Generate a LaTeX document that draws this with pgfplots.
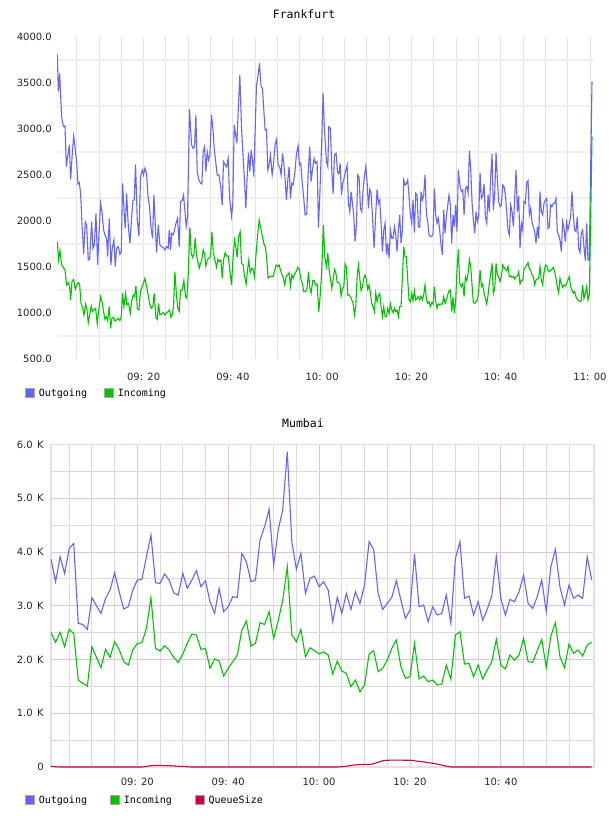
\documentclass[border=0pt]{standalone}
\usepackage{fontspec}
\usepackage{pgfplots}
\pgfplotsset{compat=1.18}
\usepackage{pgfplotstable}

\newfontfamily\tickfont{DejaVu Sans}
\newfontfamily\labelfont{DejaVu Sans Mono}

\definecolor{cOut}{RGB}{100,100,255}
\definecolor{cIn}{RGB}{0,196,0}
\definecolor{cQueue}{RGB}{204,0,51}
\definecolor{fraGridH}{RGB}{240,240,240}
\definecolor{fraGridV}{RGB}{226,226,226}
\definecolor{mumMajor}{RGB}{222,196,222}
\definecolor{mumMinor}{RGB}{218,218,218}
\definecolor{mumFrame}{RGB}{236,218,236}

% Frankfurt, minutes after 09:00
\pgfplotstableread{
t v
0.67 3812
0.90 3406
1.19 3605
1.64 3134
2.02 3025
2.39 3033
2.69 2591
2.98 2699
3.36 2826
3.66 2453
4.03 2735
4.33 2924
4.63 2808
5.00 2645
5.30 2402
5.60 2417
5.89 2301
6.19 1975
6.57 1641
6.94 1993
7.24 1957
7.61 1576
7.91 1583
8.36 1993
8.65 1703
8.95 1739
9.33 2083
9.70 1522
10.00 1866
10.37 2192
10.67 2101
11.04 1902
11.34 1848
11.71 1812
11.94 1612
12.31 2029
12.68 1522
12.98 1703
13.35 1794
13.65 1504
13.95 1703
14.32 1721
14.70 1638
14.99 1667
15.29 2409
15.67 2065
15.89 1920
16.19 2301
16.56 1957
16.94 1757
17.23 1975
17.61 2221
17.90 2228
18.20 2616
18.58 2011
18.95 1837
19.32 2482
19.70 2554
19.99 2500
20.29 2573
20.67 2518
20.96 2283
21.34 2156
21.63 1938
22.01 1812
22.31 2283
22.60 1975
22.90 1656
23.28 1957
23.65 1739
24.02 1721
24.40 1714
24.77 1685
25.14 1721
25.51 1703
25.74 1902
26.04 1685
26.26 1866
26.56 1848
26.86 1884
27.16 1957
27.60 2029
27.98 1721
28.27 2210
28.65 2221
28.95 2283
29.24 2120
29.54 1938
29.84 2047
30.29 3214
30.74 2826
31.12 2790
31.41 2808
31.71 3152
32.01 2536
32.38 2446
32.76 2409
33.06 2402
33.35 2754
33.65 2808
33.95 2536
34.25 2754
34.55 2663
34.85 2717
35.22 3152
35.52 3007
35.82 2790
36.19 2627
36.49 2500
36.86 2500
37.23 2391
37.61 2174
37.90 2645
38.28 2609
38.58 2591
38.95 2681
39.25 2265
39.70 2054
39.99 2192
40.29 3043
40.59 2953
40.89 2844
41.19 3188
41.56 3587
41.93 3025
42.31 2681
42.60 2446
42.90 2138
43.20 2482
43.50 2743
43.80 2536
44.10 2772
44.39 2663
44.69 2482
44.99 2989
45.29 3478
45.66 3587
45.96 3714
46.33 3460
46.63 3442
46.93 3206
47.23 2989
47.53 2996
47.83 2554
48.12 2609
48.42 2717
48.80 2500
49.09 2609
49.47 2844
49.77 2888
50.14 2609
50.51 2583
50.81 2500
51.11 2735
51.41 2627
51.71 2446
52.00 2228
52.30 2446
52.60 2591
52.90 2246
53.20 2409
53.50 2391
53.87 2518
54.24 2728
54.62 2815
54.91 2609
55.21 2627
55.51 2428
55.88 2246
56.18 2065
56.55 2076
56.85 2500
57.23 2808
57.52 2428
57.82 2554
58.20 2681
58.49 2627
58.87 2645
59.17 1928
59.46 2265
59.91 2880
60.21 3395
60.51 2989
60.97 2645
61.27 2591
61.49 3025
61.86 3007
62.16 2554
62.46 2293
62.76 2717
63.13 2735
63.43 2536
63.73 2511
64.03 2627
64.33 2283
64.62 2409
64.92 2464
65.22 2536
65.59 2609
65.89 2192
66.19 2101
66.49 2319
66.79 2192
67.09 2047
67.38 1775
67.68 1957
67.98 2500
68.28 2475
68.58 2138
68.88 2101
69.17 2337
69.47 2482
69.77 2591
70.07 2428
70.37 2138
70.67 2344
70.97 2301
71.26 2065
71.64 1703
71.93 2011
72.31 2344
72.61 2192
72.90 2228
73.20 1975
73.50 1667
73.80 1902
74.10 1975
74.40 1631
74.69 1757
74.99 1594
75.29 1902
75.59 1812
75.89 1812
76.19 1938
76.49 1848
76.78 1667
77.08 1902
77.38 2065
77.68 1757
77.98 1902
78.28 2446
78.57 2391
78.87 2402
79.17 2446
79.47 2265
79.77 2065
80.07 1975
80.36 2228
80.66 1873
80.96 2301
81.26 2283
81.56 1938
81.86 1931
82.15 2319
82.45 2228
82.75 2283
83.05 2500
83.35 2083
83.65 1993
83.95 1848
84.24 1830
84.54 1830
84.84 1866
85.14 2355
85.44 2065
85.74 1975
86.03 2029
86.33 1902
86.63 1739
86.93 1631
87.23 2120
87.53 1866
87.82 2047
88.12 2163
88.42 2283
88.72 2174
89.02 1757
89.32 2065
89.61 1938
89.91 2174
90.21 1884
90.51 2554
90.81 2409
91.20 2319
91.50 2337
91.80 2065
92.09 2355
92.39 2373
92.69 2301
92.99 2764
93.29 2554
93.59 2192
93.88 2011
94.18 1866
94.48 2101
94.78 1993
95.08 2065
95.38 2525
95.67 2246
95.97 2272
96.27 2402
96.57 2047
96.87 1975
97.17 2283
97.46 2101
97.76 2482
98.06 2728
98.36 2120
98.66 2301
98.96 2743
99.26 2446
99.55 2210
99.85 2156
100.15 2174
100.45 2391
100.75 2373
101.05 2283
101.34 2101
101.64 1902
101.94 1848
102.24 2174
102.54 2101
102.84 1938
103.13 2246
103.43 2554
103.73 2101
104.03 2272
104.33 1703
104.63 1975
104.92 1902
105.22 2210
105.52 2192
105.82 2417
106.12 2438
106.42 2065
106.72 2138
107.01 1982
107.31 1938
107.61 1884
107.91 1757
108.21 1938
108.51 1812
108.80 2319
109.10 2101
109.40 2065
109.70 2192
110.00 2228
110.30 2246
110.59 1920
110.89 1938
111.19 2174
111.49 2156
111.79 2192
112.09 2192
112.38 2246
112.68 1884
112.98 1848
113.28 1794
113.58 1667
113.88 1993
114.18 1920
114.47 1775
114.77 1982
115.07 1902
115.37 1975
115.67 2047
115.97 2319
116.26 2065
116.56 1902
116.86 1884
117.16 2047
117.46 1703
117.76 1656
118.05 1866
118.35 1902
118.65 1721
118.95 1569
119.25 1975
119.55 1576
119.84 1576
120.45 3514
}\fraOut

\pgfplotstableread{
t v
0.67 1775
0.97 1576
1.27 1678
1.64 1522
2.02 1496
2.39 1467
2.76 1305
3.13 1330
3.43 1286
3.66 1141
3.95 1341
4.33 1366
4.70 1257
5.07 1305
5.37 1330
5.67 1315
5.97 1105
6.34 1062
6.64 978
7.01 1098
7.31 1033
7.61 895
7.91 978
8.28 1076
8.58 1015
8.88 1033
9.25 1051
9.62 880
10.00 1051
10.37 1178
10.74 1112
11.04 1015
11.34 931
11.64 960
11.94 917
12.31 1069
12.61 833
12.91 942
13.28 953
13.58 913
13.95 924
14.32 939
14.70 917
14.99 960
15.29 1214
15.59 1069
15.97 1214
16.26 1087
16.64 1105
17.01 996
17.31 1123
17.68 1196
17.98 1178
18.28 1294
18.58 1051
18.95 1033
19.32 1243
19.70 1286
19.99 1330
20.29 1377
20.67 1286
20.96 1214
21.34 1105
21.71 1051
22.08 1069
22.38 1214
22.75 953
23.05 931
23.35 1105
23.65 978
24.02 989
24.40 1004
24.77 978
25.14 1004
25.51 1015
25.81 1033
26.11 953
26.41 978
26.71 1069
27.01 1449
27.38 1178
27.68 1051
27.98 1015
28.27 1243
28.65 1250
29.02 1352
29.39 1178
29.69 1159
29.99 1413
30.36 1931
30.67 1649
30.97 1605
31.27 1641
31.56 1812
31.86 1630
32.16 1558
32.46 1486
32.76 1540
33.06 1583
33.35 1685
33.65 1641
33.95 1511
34.25 1576
34.55 1594
35.00 1612
35.29 1884
35.59 1667
35.97 1576
36.34 1496
36.64 1583
36.93 1558
37.31 1576
37.61 1377
37.90 1576
38.28 1656
38.58 1620
38.95 1620
39.32 1467
39.70 1305
39.99 1558
40.37 1794
40.66 1721
40.96 1605
41.26 1823
41.63 1884
41.93 1540
42.31 1522
42.60 1402
42.98 1315
43.28 1467
43.57 1576
43.87 1438
44.25 1486
44.54 1467
44.84 1395
45.14 1612
45.51 1830
45.89 2011
46.19 1938
46.56 1848
46.93 1757
47.30 1714
47.60 1576
47.90 1377
48.27 1395
48.65 1402
49.02 1395
49.39 1467
49.69 1522
50.06 1504
50.36 1522
50.66 1467
51.03 1413
51.33 1377
51.63 1305
51.93 1395
52.23 1413
52.60 1438
52.90 1294
53.20 1413
53.50 1377
53.87 1431
54.17 1449
54.54 1496
54.91 1467
55.21 1377
55.58 1315
55.88 1232
56.26 1232
56.63 1268
56.93 1449
57.23 1279
57.52 1214
57.90 1352
58.20 1352
58.57 1305
58.87 1315
59.24 1015
59.61 1214
59.91 1467
60.28 1957
60.58 1612
60.97 1504
61.27 1649
61.57 1467
61.86 1377
62.16 1268
62.46 1359
62.76 1475
63.06 1438
63.36 1337
63.65 1330
63.95 1323
64.25 1185
64.55 1268
64.85 1286
65.15 1533
65.44 1496
65.74 1196
66.04 1196
66.34 1178
66.64 1141
66.94 1105
67.23 978
67.53 1069
67.83 1395
68.13 1522
68.43 1377
68.73 1243
69.03 1286
69.32 1377
69.62 1413
69.92 1359
70.22 1257
70.52 1305
70.82 1214
71.11 1105
71.41 1069
71.71 1015
72.01 1214
72.31 1123
72.61 1185
72.90 1214
73.20 1069
73.50 960
73.80 1069
74.10 960
74.40 960
74.69 1051
74.99 996
75.29 1098
75.59 1033
75.89 1004
76.19 1051
76.49 1015
76.78 1033
77.08 960
77.38 1069
77.68 1069
77.98 1395
78.28 1721
78.57 1612
78.87 1612
79.17 1359
79.47 1141
79.77 1123
80.07 1214
80.36 1134
80.66 1243
80.96 1141
81.26 1159
81.56 1178
81.86 1141
82.15 1185
82.45 1141
82.75 1196
83.05 1305
83.35 1159
83.65 1105
83.95 1123
84.24 1069
84.54 1112
84.84 1098
85.14 1286
85.44 1123
85.74 1051
86.03 1098
86.33 1087
86.63 1098
86.93 1098
87.23 1178
87.53 1105
87.82 1141
88.12 1196
88.42 1243
88.72 1250
89.02 1015
89.32 1178
89.61 996
89.91 1134
90.21 1467
90.51 1692
90.81 1323
91.20 1286
91.50 1323
91.80 1178
92.09 1395
92.39 1352
92.69 1431
92.99 1583
93.29 1504
93.59 1294
93.88 1112
94.18 1105
94.48 1123
94.78 1141
95.08 1250
95.38 1467
95.67 1286
95.97 1315
96.27 1214
96.57 1159
96.87 1098
97.17 1196
97.46 1323
97.76 1431
98.06 1540
98.36 1214
98.66 1268
98.96 1540
99.26 1413
99.55 1395
99.85 1341
100.15 1395
100.45 1522
100.75 1496
101.05 1475
101.34 1460
101.64 1504
101.94 1395
102.24 1402
102.54 1388
102.84 1395
103.13 1366
103.43 1395
103.73 1402
104.03 1449
104.33 1315
104.63 1359
104.92 1352
105.22 1475
105.52 1496
105.82 1522
106.12 1547
106.42 1475
106.72 1467
107.01 1413
107.31 1395
107.61 1305
107.91 1359
108.21 1366
108.51 1377
108.80 1504
109.10 1359
109.40 1305
109.70 1438
110.00 1522
110.30 1511
110.59 1467
110.89 1449
111.19 1467
111.49 1475
111.79 1496
112.09 1449
112.38 1377
112.68 1286
112.98 1221
113.28 1377
113.58 1323
113.88 1279
114.18 1305
114.47 1294
114.77 1323
115.07 1359
115.37 1395
115.67 1286
115.97 1250
116.26 1214
116.56 1232
116.86 1178
117.16 1149
117.46 1134
117.76 1123
118.05 1141
118.35 1305
118.65 1159
118.95 1214
119.25 1286
119.55 1141
119.84 1196
120.14 1975
120.45 2916
}\fraIn

% Mumbai, one sample per minute after 09:00
\pgfplotstableread{
t out in queue
1 3869 2505 15
2 3447 2319 5
3 3912 2505 0
4 3602 2238 0
5 4067 2560 0
6 4160 2486 0
7 2672 1618 0
8 2653 1556 0
9 2560 1506 0
10 3149 2238 0
11 3000 2040 0
12 2858 1847 0
13 3137 2188 0
14 3292 2040 0
15 3614 2331 0
16 3261 2188 0
17 2939 1959 0
18 2982 1897 0
19 3292 2176 0
20 3478 2300 0
21 3490 2312 0
22 3912 2579 10
23 4315 3150 25
24 3428 2207 30
25 3416 2157 30
26 3590 2257 25
27 3478 2176 25
28 3242 2040 20
29 3199 1947 15
30 3602 2102 10
31 3323 2300 5
32 3478 2474 0
33 3652 2455 0
34 3354 2188 0
35 3466 2207 0
36 3075 1835 0
37 2858 2009 0
38 3323 1971 0
39 2889 1692 0
40 2982 1835 0
41 3168 1959 0
42 3156 2083 0
43 3974 2548 0
44 3819 2715 0
45 3447 2250 0
46 3478 2300 0
47 4222 2684 0
48 4470 2653 0
49 4792 2889 0
50 3757 2393 0
51 4408 2722 0
52 4792 3106 0
53 5865 3726 0
54 4191 2455 0
55 3680 2331 0
56 3974 2560 0
57 3230 2052 0
58 3509 2219 0
59 3552 2164 0
60 3354 2102 0
61 3447 2145 0
62 3292 2083 0
63 2703 1730 0
64 3156 1971 0
65 2858 1785 5
66 3230 1742 15
67 2932 1494 30
68 3261 1618 40
69 3044 1401 45
70 3385 1525 50
71 4191 2102 45
72 4048 2164 60
73 3230 1773 90
74 2932 1835 115
75 3044 1990 125
76 3156 2207 128
77 3466 2362 128
78 3106 1866 128
79 2765 1649 125
80 2920 1680 125
81 3962 2300 115
82 2982 1637 105
83 3013 1692 95
84 2703 1587 80
85 2982 1618 70
86 2827 1525 55
87 2858 1544 35
88 3199 1897 15
89 2672 1630 0
90 3881 2455 0
91 4191 2517 0
92 3137 1916 0
93 3180 1928 0
94 2827 1680 0
95 3075 1897 0
96 2734 1637 0
97 2932 1804 0
98 3180 1959 0
99 3924 2374 0
100 3137 1897 0
101 2827 1823 0
102 3118 2083 0
103 3075 1990 0
104 3261 2083 0
105 3571 2393 0
106 3044 1959 0
107 2951 1947 0
108 3168 2164 0
109 3478 2374 0
110 2889 1847 0
111 3726 2436 0
112 4048 2684 0
113 3354 2052 0
114 3013 1847 0
115 3385 2288 0
116 3137 2114 0
117 3199 2176 0
118 3137 2064 0
119 3912 2269 0
120 3478 2319 0
}\mumbai

\pgfplotsset{
  legsq/.style={legend image code/.code={%
    \draw[fill=#1, draw=gray!70, line width=0.7pt] (0pt,-4.5pt) rectangle (9pt,4.5pt);}},
  ticktext/.style={font=\tickfont\fontsize{10}{10}\selectfont, text=black!85},
  series/.style={line width=1.1pt, forget plot},
}

\begin{document}
\begin{tikzpicture}
\useasboundingbox (0pt,0pt) rectangle (608pt,816pt);

% ---------------- Frankfurt ----------------
\begin{axis}[
  at={(57pt,457pt)}, anchor=south west,
  width=537pt, height=322pt, scale only axis,
  xmin=0.6, xmax=120.9, ymin=500, ymax=4000,
  axis line style={draw=none},
  tick style={draw=none},
  xtick={20,40,60,80,100,120},
  xticklabels={{09: 20},{09: 40},{10: 00},{10: 20},{10: 40},{11: 00}},
  minor xtick={5,10,...,120},
  ytick={500,1000,...,4000},
  yticklabels={500.0,1000.0,1500.0,2000.0,2500.0,3000.0,3500.0,4000.0},
  minor ytick={750,1250,...,3750},
  xmajorgrids, xminorgrids, yminorgrids,
  major x grid style={fraGridV, line width=0.9pt},
  minor x grid style={fraGridV, line width=0.9pt},
  minor y grid style={fraGridH, line width=1.8pt},
  xticklabel style={ticktext, anchor=center, inner sep=0pt, yshift=-18pt},
  yticklabel style={ticktext, anchor=east, inner sep=0pt, xshift=-5pt},
  title={Frankfurt},
  title style={font=\labelfont\fontsize{11.5}{12}\selectfont, at={(0.46,1)}, anchor=center, yshift=17pt},
  legend style={draw=none, fill=none, at={(-0.0596,-0.1056)}, anchor=west,
    legend columns=-1, font=\labelfont\fontsize{10}{12}\selectfont, inner sep=0pt,
    /tikz/every even column/.append style={column sep=15pt},
    /tikz/every odd column/.append style={column sep=2pt}},
  legend cell align=left,
]
\addlegendimage{legsq=cOut}\addlegendentry{Outgoing}
\addlegendimage{legsq=cIn}\addlegendentry{Incoming}
\addplot[series, cOut] table[x=t, y=v] {\fraOut};
\addplot[series, cIn] table[x=t, y=v] {\fraIn};
\end{axis}

% ---------------- Mumbai ----------------
\begin{axis}[
  at={(51pt,49pt)}, anchor=south west,
  width=543pt, height=322.5pt, scale only axis,
  xmin=1, xmax=120.5, ymin=0, ymax=6000,
  axis line style={mumFrame, line width=1.3pt},
  tick style={draw=none},
  xtick={20,40,60,80,100},
  xticklabels={{09: 20},{09: 40},{10: 00},{10: 20},{10: 40}},
  minor xtick={5,10,...,115},
  ytick={0,1000,...,6000},
  yticklabels={0,1.0\hspace{0.45em}K,2.0\hspace{0.45em}K,3.0\hspace{0.45em}K,4.0\hspace{0.45em}K,5.0\hspace{0.45em}K,6.0\hspace{0.45em}K},
  minor ytick={500,1500,...,5500},
  xmajorgrids, xminorgrids, ymajorgrids, yminorgrids,
  major grid style={mumMajor, line width=0.9pt},
  minor grid style={mumMinor, line width=0.9pt},
  xticklabel style={ticktext, anchor=center, inner sep=0pt, yshift=-15pt},
  yticklabel style={ticktext, anchor=east, inner sep=0pt, xshift=-7pt},
  title={Mumbai},
  title style={font=\labelfont\fontsize{11.5}{12}\selectfont, at={(0.464,1)}, anchor=center, yshift=15.5pt},
  legend style={draw=none, fill=none, at={(-0.0479,-0.1023)}, anchor=west,
    legend columns=-1, font=\labelfont\fontsize{10}{12}\selectfont, inner sep=0pt,
    /tikz/every even column/.append style={column sep=21pt},
    /tikz/every odd column/.append style={column sep=2pt}},
  legend cell align=left,
]
\addlegendimage{legsq=cOut}\addlegendentry{Outgoing}
\addlegendimage{legsq=cIn}\addlegendentry{Incoming}
\addlegendimage{legsq=cQueue}\addlegendentry{QueueSize}
\addplot[series, cOut] table[x=t, y=out] {\mumbai};
\addplot[series, cIn] table[x=t, y=in] {\mumbai};
\addplot[series, cQueue] table[x=t, y=queue] {\mumbai};
\end{axis}
\end{tikzpicture}
\end{document}
